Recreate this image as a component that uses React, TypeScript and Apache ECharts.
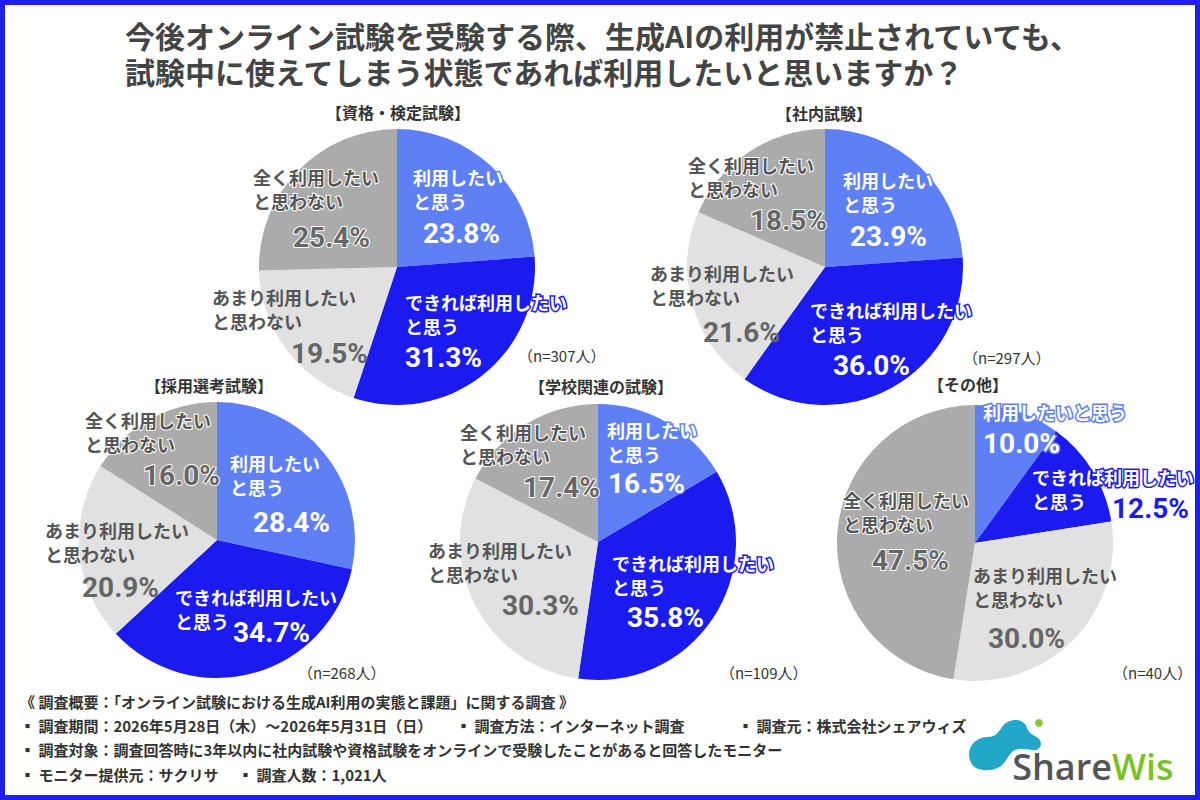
import React, { useEffect, useRef } from "react";
import * as echarts from "echarts";

// ---------- data ----------
const CATEGORIES = [
  "利用したいと思う",
  "できれば利用したいと思う",
  "あまり利用したいと思わない",
  "全く利用したいと思わない",
];
const CATEGORY_LABELS = [
  "利用したい\nと思う",
  "できれば利用したい\nと思う",
  "あまり利用したい\nと思わない",
  "全く利用したい\nと思わない",
];
const PIE_TITLES = ["【資格・検定試験】", "【社内試験】", "【採用選考試験】", "【学校関連の試験】", "【その他】"];
const SAMPLE_SIZES = ["（n=307人）", "（n=297人）", "（n=268人）", "（n=109人）", "（n=40人）"];
const VALUES_QUALIFICATION = [23.8, 31.3, 19.5, 25.4];
const VALUES_INTERNAL = [23.9, 36.0, 21.6, 18.5];
const VALUES_RECRUIT = [28.4, 34.7, 20.9, 16.0];
const VALUES_SCHOOL = [16.5, 35.8, 30.3, 17.4];
const VALUES_OTHER = [10.0, 12.5, 30.0, 47.5];
const PIE_VALUES = [VALUES_QUALIFICATION, VALUES_INTERNAL, VALUES_RECRUIT, VALUES_SCHOOL, VALUES_OTHER];

const TITLE_LINES = [
  "今後オンライン試験を受験する際、生成AIの利用が禁止されていても、",
  "試験中に使えてしまう状態であれば利用したいと思いますか？",
];
const FOOTER_HEAD = "《 調査概要：「オンライン試験における生成AI利用の実態と課題」に関する調査 》";
const FOOTER_ITEMS = [
  "▪ 調査期間：2026年5月28日（木）～2026年5月31日（日）",
  "▪ 調査方法：インターネット調査",
  "▪ 調査元：株式会社シェアウィズ",
  "▪ 調査対象：調査回答時に3年以内に社内試験や資格試験をオンラインで受験したことがあると回答したモニター",
  "▪ モニター提供元：サクリサ",
  "▪ 調査人数：1,021人",
];

// ---------- layout / style ----------
const COLORS = ["#5f7ff5", "#1b1bf0", "#e1e1e1", "#ababab"];
const CENTERS = [[397, 267], [825, 267], [217, 540], [598, 542], [975, 543]];
const RADIUS = 138;
const TITLE_POS = [[398, 112], [824, 113], [209, 385], [601, 386], [968, 384]];
const N_POS = [[518, 355], [963, 357], [298, 672], [720, 672], [1113, 672]];
const NAME_POS = [
  [[413, 177], [405, 302], [212, 297], [253, 177]],
  [[843, 180], [810, 310], [650, 273], [688, 165]],
  [[230, 463], [175, 597], [45, 530], [85, 420]],
  [[607, 430], [612, 563], [428, 550], [460, 432]],
  [[983, 412], [1032, 477], [973, 575], [843, 500]],
];
const PCT_POS = [
  [[423, 233], [405, 357], [291, 353], [293, 237]],
  [[850, 236], [833, 365], [703, 332], [750, 220]],
  [[253, 522], [233, 632], [82, 587], [143, 475]],
  [[608, 483], [627, 617], [502, 605], [523, 487]],
  [[983, 443], [1112, 508], [988, 638], [872, 560]],
];
const CJK = '"Noto Sans CJK JP", "Noto Sans", sans-serif';
const NUM = 'Roboto, "Noto Sans", sans-serif';

const NAME_STYLE = [
  { color: "#fff", textBorderColor: COLORS[0], textBorderWidth: 3 },
  { color: "#fff", textBorderColor: COLORS[1], textBorderWidth: 3 },
  { color: "#555", textBorderColor: "transparent", textBorderWidth: 0 },
  { color: "#555", textBorderColor: "#fff", textBorderWidth: 2 },
];
const PCT_STYLE = [
  { color: "#fff", textBorderColor: COLORS[0], textBorderWidth: 3 },
  { color: "#fff", textBorderColor: COLORS[1], textBorderWidth: 3 },
  { color: "#666", textBorderColor: "transparent", textBorderWidth: 0 },
  { color: "#666", textBorderColor: "#fff", textBorderWidth: 2 },
];

const BLOB =
  "M970 760 C966 748 975 737 988 737 C995 737 998 733 1002 727 C1008 718 1024 717 1027 728 C1029 734 1034 735 1038 738 C1044 743 1040 752 1032 750 C1024 749 1018 747 1012 752 C1006 758 1004 769 990 770 C978 771 972 767 970 760 Z";

export default function App() {
  const ref = useRef<HTMLDivElement>(null);
  useEffect(() => {
    if (!ref.current) return;
    document.body.style.margin = "0";
    echarts.graphic.registerShape("sharewisBlob", echarts.graphic.extendPath(BLOB, {}));
    const chart = echarts.init(ref.current, null, { renderer: "svg" });

    const series: any[] = [];
    PIE_VALUES.forEach((vals, p) => {
      const base = {
        type: "pie",
        center: CENTERS[p],
        radius: RADIUS,
        startAngle: 90,
        clockwise: true,
        avoidLabelOverlap: false,
        silent: true,
        labelLine: { show: false },
        emphasis: { disabled: true },
      };
      series.push({
        ...base,
        z: 2,
        label: {
          show: true,
          position: "inside",
          fontFamily: CJK,
          fontWeight: "bold",
          fontSize: 18,
          lineHeight: 24,
          align: "left",
        },
        labelLayout: (params: any) => {
          const pos = NAME_POS[p][params.dataIndex];
          return { x: pos[0], y: pos[1] - 12, align: "left", verticalAlign: "top" };
        },
        data: vals.map((v, i) => ({
          name: CATEGORIES[i],
          value: v,
          itemStyle: { color: COLORS[i] },
          label: {
            formatter: p === 4 && i === 0 ? CATEGORIES[0] : CATEGORY_LABELS[i],
            ...NAME_STYLE[i],
          },
        })),
      });
      series.push({
        ...base,
        z: 3,
        label: {
          show: true,
          position: "inside",
          fontFamily: NUM,
          fontWeight: "bold",
          fontSize: 28,
          formatter: (prm: any) => Number(prm.value).toFixed(1) + "%",
        },
        labelLayout: (params: any) => {
          const pos = PCT_POS[p][params.dataIndex];
          return { x: pos[0], y: pos[1], align: "left", verticalAlign: "middle" };
        },
        data: vals.map((v, i) => {
          let st: any = PCT_STYLE[i];
          if (p === 4 && i === 1) st = { color: COLORS[1], textBorderColor: "#fff", textBorderWidth: 3 };
          return {
            name: CATEGORIES[i],
            value: v,
            itemStyle: { color: "rgba(0,0,0,0)" },
            label: { ...st },
          };
        }),
      });
    });

    const txt = (x: number, y: number, text: string, font: string, fill: string, align = "left", lineHeight?: number) => ({
      type: "text",
      x,
      y,
      z: 10,
      style: {
        text,
        font,
        fill,
        align,
        verticalAlign: "middle",
        textAlign: align,
        textVerticalAlign: "middle",
        ...(lineHeight ? { lineHeight } : {}),
      },
    });

    const graphics: any[] = [
      {
        type: "rect",
        shape: { x: 2.5, y: 2.5, width: 1195, height: 795 },
        style: { fill: "none", stroke: "#2020ee", lineWidth: 5 },
        z: 20,
      },
      txt(125, 53, TITLE_LINES.join("\n"), `bold 30px ${CJK}`, "#444", "left", 36),
    ];
    PIE_TITLES.forEach((t, i) => graphics.push(txt(TITLE_POS[i][0], TITLE_POS[i][1], t, `bold 16px ${CJK}`, "#333", "center")));
    SAMPLE_SIZES.forEach((t, i) => graphics.push(txt(N_POS[i][0], N_POS[i][1], t, `15px ${CJK}`, "#333")));
    const ff = `bold 15px ${CJK}`;
    graphics.push(txt(20, 701, FOOTER_HEAD, ff, "#333"));
    graphics.push(txt(20, 725, FOOTER_ITEMS[0], ff, "#333"));
    graphics.push(txt(456, 725, FOOTER_ITEMS[1], ff, "#333"));
    graphics.push(txt(738, 725, FOOTER_ITEMS[2], ff, "#333"));
    graphics.push(txt(20, 749, FOOTER_ITEMS[3], ff, "#333"));
    graphics.push(txt(20, 774, FOOTER_ITEMS[4], ff, "#333"));
    graphics.push(txt(238, 774, FOOTER_ITEMS[5], ff, "#333"));
    // logo
    graphics.push({ type: "sharewisBlob", x: 0, y: 0, z: 10, style: { fill: "#22a7c9" } });
    graphics.push({ type: "circle", z: 10, shape: { cx: 1039, cy: 723, r: 4 }, style: { fill: "#8cc63f" } });
    graphics.push(txt(1112, 766, "Share", `600 36px "Open Sans", Lato, sans-serif`, "#555", "right"));
    graphics.push(txt(1112, 766, "Wis", `600 36px "Open Sans", Lato, sans-serif`, "#7ac224", "left"));

    chart.setOption({
      animation: false,
      backgroundColor: "#fff",
      series,
      graphic: { elements: graphics },
    });
    return () => chart.dispose();
  }, []);
  return <div ref={ref} style={{ position: "absolute", left: 0, top: 0, width: 1200, height: 800 }} />;
}
